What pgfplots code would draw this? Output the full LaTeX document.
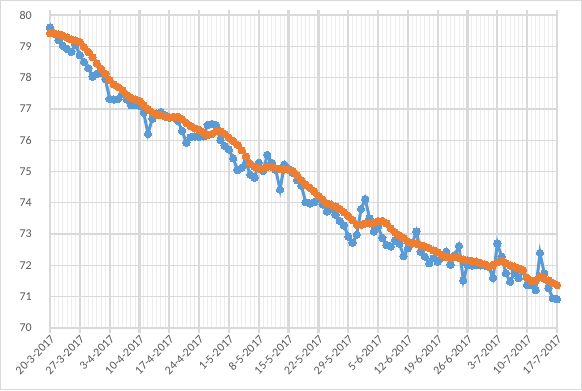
\documentclass[border=0pt]{standalone}
\usepackage{pgfplots}
\pgfplotsset{compat=1.18}
\usepackage{fontspec}
\setmainfont{Carlito}
\definecolor{exblue}{HTML}{5B9BD5}
\definecolor{exorange}{HTML}{ED7D31}
\definecolor{gridmaj}{HTML}{D9D9D9}
\definecolor{gridmin}{HTML}{EDEDED}
\definecolor{labgray}{HTML}{595959}
\begin{document}
\begin{tikzpicture}[x=1bp,y=1bp]
\useasboundingbox (0,0) rectangle (582,390);
\draw[gridmaj,line width=1bp] (0.5,0.5) rectangle (581.5,389.5);
\begin{axis}[
  at={(50bp,62bp)}, anchor=south west,
  scale only axis, width=507bp, height=313bp,
  xmin=0, xmax=119, ymin=70, ymax=80,
  clip=false,
  axis line style={draw=none},
  xtick={0,7,...,119},
  xticklabels={20-3-2017,27-3-2017,3-4-2017,10-4-2017,17-4-2017,24-4-2017,1-5-2017,8-5-2017,15-5-2017,22-5-2017,29-5-2017,5-6-2017,12-6-2017,19-6-2017,26-6-2017,3-7-2017,10-7-2017,17-7-2017},
  minor x tick num=6,
  ytick={70,71,...,80},
  grid=both,
  major x grid style={draw=gridmaj,line width=2.2bp},
  minor x grid style={draw=gridmin,line width=1bp},
  major y grid style={draw=gridmaj,line width=1.3bp},
  x tick style={draw=gridmaj,line width=2.2bp},
  minor x tick style={draw=none},
  y tick style={draw=none},
  tick align=outside,
  major tick length=5bp,
  /pgf/number format/assume math mode=true,
  tick label style={font=\fontsize{12}{14}\selectfont, text=labgray},
  xticklabel style={rotate=45, anchor=east, inner sep=1bp, yshift=-5bp},
  yticklabel style={inner sep=2bp, xshift=-11bp},
]
\addplot[exblue, line width=3bp, mark=*, mark size=3.7bp, mark options={solid, fill=exblue, draw=exblue, line width=0pt}] coordinates {
(0,79.60) (1,79.40) (2,79.20) (3,79.02) (4,78.92) (5,78.82) (6,79.05) (7,78.72) (8,78.50) (9,78.30)
(10,78.03) (11,78.12) (12,78.14) (13,77.95) (14,77.32) (15,77.30) (16,77.32) (17,77.48) (18,77.30) (19,77.12)
(20,77.12) (21,77.10) (22,76.88) (23,76.20) (24,76.68) (25,76.85) (26,76.90) (27,76.80) (28,76.72) (29,76.75)
(30,76.62) (31,76.30) (32,75.92) (33,76.10) (34,76.12) (35,76.10) (36,76.12) (37,76.49) (38,76.52) (39,76.48)
(40,76.00) (41,75.82) (42,75.70) (43,75.42) (44,75.05) (45,75.12) (46,75.28) (47,74.90) (48,74.80) (49,75.28)
(50,75.02) (51,75.53) (52,75.28) (53,75.05) (54,74.42) (55,75.22) (56,75.08) (57,74.95) (58,74.72) (59,74.55)
(60,74.02) (61,73.98) (62,74.02) (63,74.14) (64,73.95) (65,73.72) (66,73.80) (67,73.62) (68,73.42) (69,73.28)
(70,72.92) (71,72.72) (72,72.98) (73,73.80) (74,74.12) (75,73.50) (76,73.08) (77,73.24) (78,72.88) (79,72.65)
(80,72.60) (81,72.80) (82,72.70) (83,72.30) (84,72.55) (85,72.70) (86,73.08) (87,72.44) (88,72.28) (89,72.07)
(90,72.23) (91,72.12) (92,72.25) (93,72.44) (94,72.02) (95,72.33) (96,72.62) (97,71.52) (98,72.02) (99,72.00)
(100,72.02) (101,72.00) (102,72.00) (103,71.95) (104,71.60) (105,72.70) (106,72.28) (107,71.75) (108,71.48) (109,71.75)
(110,71.59) (111,71.85) (112,71.37) (113,71.37) (114,71.21) (115,72.40) (116,71.75) (117,71.27) (118,70.95) (119,70.92)
};
\addplot[exorange, line width=3bp, mark=*, mark size=3.7bp, mark options={solid, fill=exorange, draw=exorange, line width=0pt}] coordinates {
(0,79.42) (1,79.42) (2,79.38) (3,79.34) (4,79.28) (5,79.22) (6,79.18) (7,79.14) (8,78.98) (9,78.82)
(10,78.65) (11,78.45) (12,78.28) (13,78.12) (14,77.92) (15,77.78) (16,77.70) (17,77.60) (18,77.45) (19,77.36)
(20,77.30) (21,77.26) (22,77.12) (23,77.00) (24,76.88) (25,76.82) (26,76.80) (27,76.76) (28,76.74) (29,76.73)
(30,76.75) (31,76.68) (32,76.55) (33,76.45) (34,76.38) (35,76.33) (36,76.24) (37,76.17) (38,76.20) (39,76.30)
(40,76.28) (41,76.20) (42,76.08) (43,75.98) (44,75.85) (45,75.68) (46,75.48) (47,75.25) (48,75.15) (49,75.10)
(50,75.10) (51,75.15) (52,75.15) (53,75.10) (54,75.08) (55,75.07) (56,75.05) (57,75.02) (58,74.88) (59,74.72)
(60,74.58) (61,74.48) (62,74.36) (63,74.22) (64,74.10) (65,73.98) (66,73.94) (67,73.88) (68,73.80) (69,73.70)
(70,73.58) (71,73.45) (72,73.30) (73,73.30) (74,73.34) (75,73.34) (76,73.36) (77,73.42) (78,73.42) (79,73.34)
(80,73.18) (81,73.05) (82,72.96) (83,72.88) (84,72.76) (85,72.72) (86,72.70) (87,72.64) (88,72.60) (89,72.55)
(90,72.48) (91,72.42) (92,72.34) (93,72.27) (94,72.24) (95,72.27) (96,72.24) (97,72.19) (98,72.16) (99,72.14)
(100,72.12) (101,72.08) (102,72.04) (103,71.96) (104,72.02) (105,72.10) (106,72.15) (107,72.07) (108,72.00) (109,71.96)
(110,71.90) (111,71.85) (112,71.60) (113,71.50) (114,71.52) (115,71.65) (116,71.58) (117,71.52) (118,71.44) (119,71.37)
};
\end{axis}
\end{tikzpicture}
\end{document}
